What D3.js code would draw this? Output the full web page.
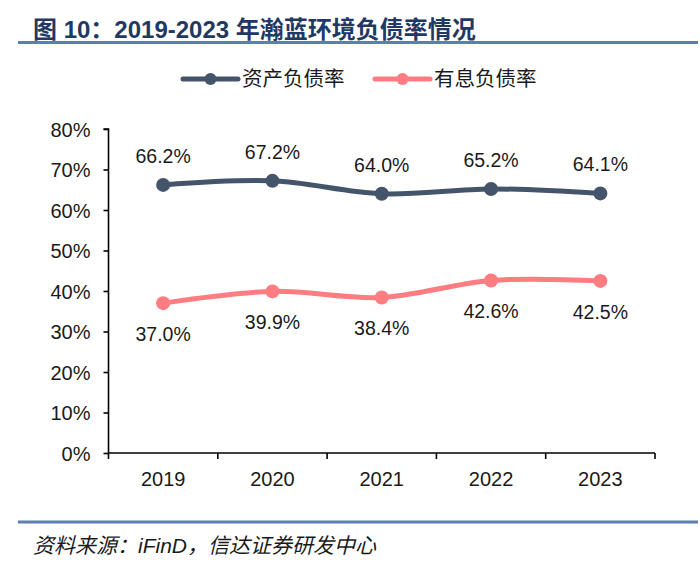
<!DOCTYPE html>
<html lang="zh">
<head>
<meta charset="utf-8">
<title>瀚蓝环境负债率</title>
<script src="https://cdn.jsdelivr.net/npm/d3@7/dist/d3.min.js"></script>
<style>
  body { margin: 0; background: #fff; }
  svg { display: block; }
  .num { font-family: "Liberation Sans", Arial, sans-serif; fill: #1a1a1a; }
  .cjk { font-family: "Noto Sans CJK SC", "Noto Sans", sans-serif; fill: #1a1a1a; }
  .mix { font-family: "Liberation Sans", "Noto Sans CJK SC", sans-serif; fill: #1a1a1a; }
</style>
</head>
<body>
<div id="chart"></div>
<script>
// data
const years = ["2019", "2020", "2021", "2022", "2023"];
const assetRatio = [66.2, 67.2, 64.0, 65.2, 64.1];
const interestRatio = [37.0, 39.9, 38.4, 42.6, 42.5];
const yTicks = [0, 10, 20, 30, 40, 50, 60, 70, 80];
const seriesNames = ["资产负债率", "有息负债率"];
const seriesColors = ["#44546a", "#ff7c80"];

const width = 700, height = 573;
const margin = {left: 108.5, right: 45, top: 129, bottom: 120};

const svg = d3.select("#chart").append("svg")
    .attr("width", width)
    .attr("height", height);

// title + rules
svg.append("text")
    .attr("class", "mix")
    .attr("x", 33).attr("y", 37.5)
    .style("font-size", "24px")
    .style("font-weight", "bold")
    .style("fill", "#1f3864")
    .text("图 10：2019-2023 年瀚蓝环境负债率情况");

[42.5, 522].forEach(y => {
    svg.append("line")
        .attr("x1", 18).attr("x2", 698)
        .attr("y1", y).attr("y2", y)
        .attr("stroke", "#5b7fae")
        .attr("stroke-width", 3);
});

svg.append("text")
    .attr("class", "mix")
    .attr("x", 33).attr("y", 553)
    .style("font-size", "21px")
    .style("font-style", "italic")
    .text("资料来源：iFinD，信达证券研发中心");

// scales
const x = d3.scaleBand()
    .domain(years)
    .range([margin.left, width - margin.right]);

const y = d3.scaleLinear()
    .domain([0, 80])
    .range([453, margin.top]);

// axes
const yAxis = d3.axisLeft(y)
    .tickValues(yTicks)
    .tickFormat(d => d + "%")
    .tickSize(5)
    .tickPadding(13);

const gy = svg.append("g")
    .attr("transform", `translate(${margin.left},0)`)
    .call(yAxis);
gy.select(".domain").attr("d", `M-5,${y(80)}H0V${y(0)}`).attr("stroke-width", 1.6);
gy.selectAll(".tick line").attr("stroke-width", 1.6);
gy.selectAll(".tick text")
    .attr("class", "num")
    .style("font-size", "20px")
    .attr("dy", "0.36em");

const xAxis = d3.axisBottom(x)
    .tickSize(0)
    .tickPadding(0);

const gx = svg.append("g")
    .attr("transform", `translate(0,${y(0)})`)
    .call(xAxis);
gx.select(".domain").attr("d", `M${x.range()[0]},0H${x.range()[1]}`).attr("stroke-width", 1.6);
gx.selectAll(".tick text")
    .attr("class", "num")
    .style("font-size", "20px")
    .attr("y", 33)
    .attr("dy", 0);

// band-edge ticks
const edges = years.map(d => x(d)).concat([x.range()[1]]);
gx.selectAll(".edge")
    .data(edges)
    .enter()
    .append("line")
    .attr("x1", d => d).attr("x2", d => d)
    .attr("y1", 0).attr("y2", 6)
    .attr("stroke", "#000")
    .attr("stroke-width", 1.6);

// lines
const cx = d => x(d) + x.bandwidth() / 2;
const line = d3.line()
    .x((d, i) => cx(years[i]))
    .y(d => y(d))
    .curve(d3.curveCatmullRom.alpha(0.5));

const series = [assetRatio, interestRatio];
series.forEach((vals, s) => {
    svg.append("path")
        .datum(vals)
        .attr("d", line)
        .attr("fill", "none")
        .attr("stroke", seriesColors[s])
        .attr("stroke-width", 5)
        .attr("stroke-linecap", "round");

    svg.append("g").selectAll("circle")
        .data(vals)
        .enter()
        .append("circle")
        .attr("cx", (d, i) => cx(years[i]))
        .attr("cy", d => y(d))
        .attr("r", 7)
        .attr("fill", seriesColors[s]);

    svg.append("g").selectAll("text")
        .data(vals)
        .enter()
        .append("text")
        .attr("class", "num")
        .attr("x", (d, i) => cx(years[i]))
        .attr("y", d => y(d) + (s === 0 ? -22 : 38))
        .attr("text-anchor", "middle")
        .style("font-size", "19.5px")
        .text(d => d.toFixed(1) + "%");
});

// legend
const legendX = [183, 375];
seriesNames.forEach((name, s) => {
    const g = svg.append("g").attr("transform", `translate(${legendX[s]},79)`);
    g.append("line")
        .attr("x1", 0).attr("x2", 55)
        .attr("stroke", seriesColors[s])
        .attr("stroke-width", 5)
        .attr("stroke-linecap", "round");
    g.append("circle")
        .attr("cx", 27.5).attr("r", 6)
        .attr("fill", seriesColors[s]);
    g.append("text")
        .attr("class", "cjk")
        .attr("x", 59)
        .attr("dy", "0.35em")
        .style("font-size", "20.5px")
        .text(name);
});
</script>
</body>
</html>
